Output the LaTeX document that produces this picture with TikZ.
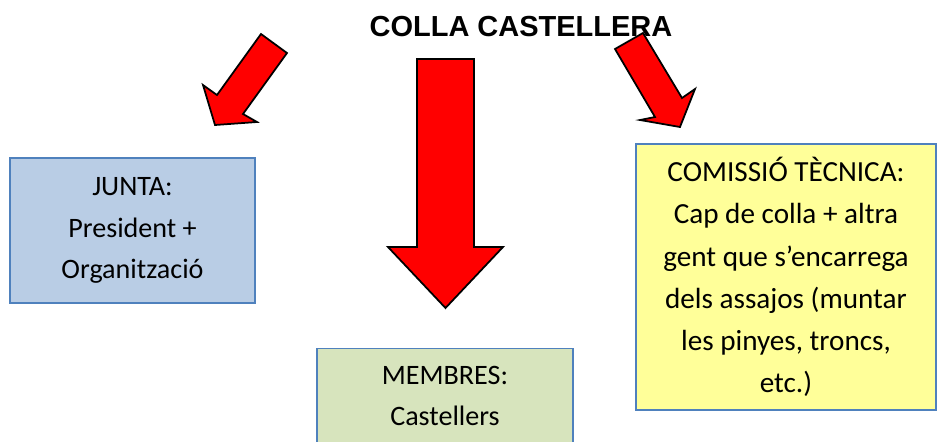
\documentclass[tikz,border=0pt]{standalone}
\usepackage{fontspec}
\setmainfont{Carlito}
\newfontfamily\titlefont{Liberation Sans}
\usetikzlibrary{positioning}
\definecolor{boxline}{RGB}{79,129,189}
\definecolor{juntafill}{HTML}{B9CDE5}
\definecolor{membresfill}{HTML}{D7E4BD}
\definecolor{tecnicafill}{HTML}{FFFF99}

\begin{document}
\begin{tikzpicture}[
    x=0.02cm, y=-0.02cm,
    box/.style={draw=boxline, line width=0.8pt, align=center, inner sep=0pt, font=\fontsize{16}{23.5}\selectfont},
    redarrow/.style={draw=black, fill=red, line width=1pt, line join=miter}
]
\useasboundingbox (0,0) rectangle (938,441);

% Title
\node[font=\titlefont\bfseries\fontsize{16.5}{20}\selectfont] (title) at (521,27) {COLLA CASTELLERA};

% Boxes
\node[box, fill=juntafill, minimum width=4.9cm, minimum height=2.9cm] (junta) at (132.5,230.5) {JUNTA:\\President +\\Organització};
\node[box, fill=membresfill, minimum width=5.12cm, minimum height=1.9cm, anchor=north] (membres) at (445,348) {MEMBRES:\\Castellers};
\node[box, fill=tecnicafill, minimum width=6cm, minimum height=5.32cm, font=\fontsize{16.6}{24}\selectfont] (tecnica) at (786,277) {COMISSIÓ TÈCNICA:\\Cap de colla + altra\\gent que s’encarrega\\dels assajos (muntar\\les pinyes, troncs,\\etc.)};

% Arrows
\draw[redarrow] (261,34) -- (287,53) -- (243,114) -- (257,122) -- (215,125) -- (203,85) -- (217,95) -- cycle;
\draw[redarrow] (417,59) -- (474,59) -- (474,247) -- (503,247) -- (445.5,308) -- (388,247) -- (417,247) -- cycle;
\draw[redarrow] (643,33) -- (615,49) -- (655,117) -- (640,120) -- (680,127) -- (695,89) -- (682,98) -- cycle;

\end{tikzpicture}
\end{document}
